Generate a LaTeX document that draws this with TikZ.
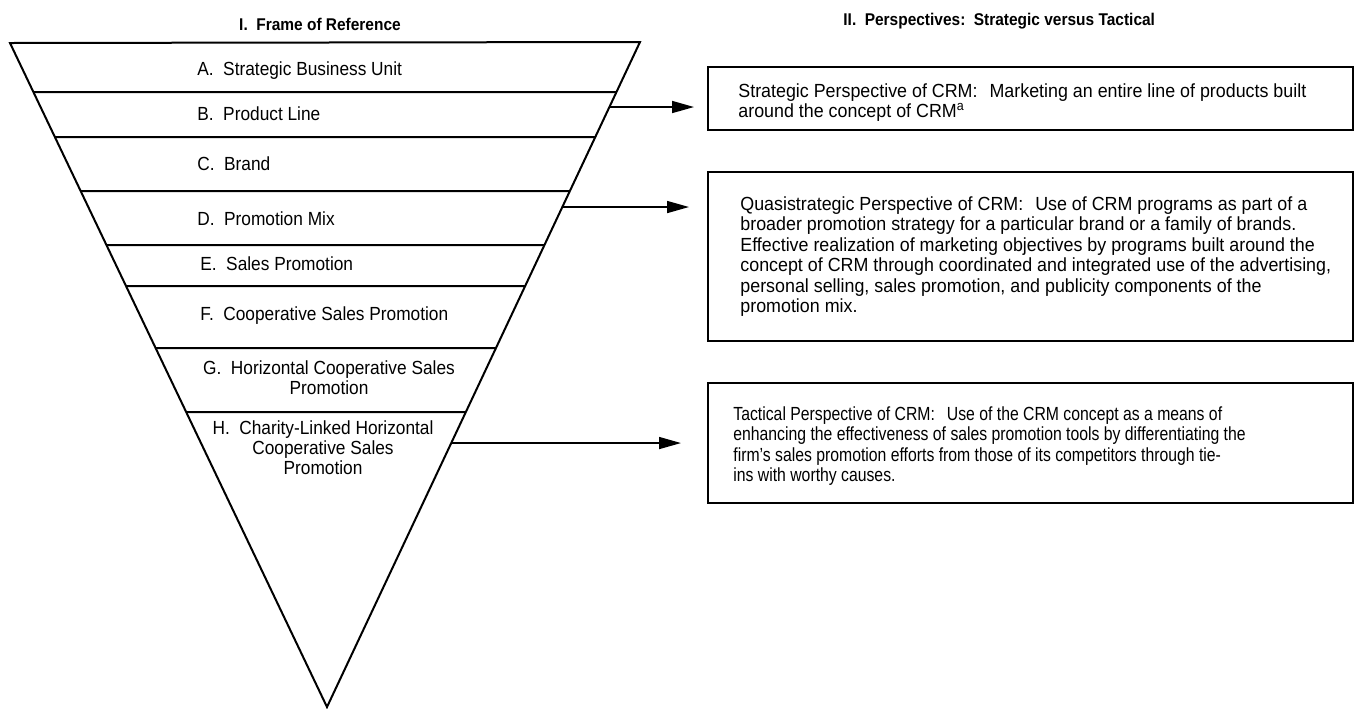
\documentclass[tikz,border=0pt]{standalone}
\usepackage{fontspec}
\setmainfont{Liberation Sans}[FakeStretch=0.91]
\newfontfamily\boxfont{Liberation Sans}[FakeStretch=0.94]
\newfontfamily\tactfont{Liberation Sans}[FakeStretch=0.83]
\usetikzlibrary{arrows.meta}
\usetikzlibrary{fit}
\tikzset{funnel/.style = {line width=1pt, line join=miter},
         perspbox/.style = {draw, line width=1pt, inner sep=0pt},
         bandlabel/.style = {anchor=base west, inner sep=0pt,
                             font=\fontsize{9.5}{10}\selectfont},
         twolabel/.style = {anchor=north, align=center, inner sep=0pt,
                            font=\fontsize{9.5}{10}\selectfont},
         boxtext/.style = {anchor=north west, align=left, inner sep=0pt,
                           font=\fontsize{9.5}{10.25}\selectfont\boxfont},
         heading/.style = {inner sep=0pt, font=\fontsize{8.5}{10}\selectfont\bfseries},
         pointer/.style = {line width=0.8pt, -{Triangle[length=11pt, width=6pt]}}}

\begin{document}
\begin{tikzpicture}[x=0.5pt, y=-0.5pt]
    \useasboundingbox (0, 0) rectangle (1355, 708);

    \coordinate (tl) at (10, 43);
    \coordinate (tr) at (640, 42);
    \coordinate (apex) at (327, 707);

    \draw [funnel] (tl) -- (tr) -- (apex) -- cycle;

    \foreach \y in {92, 137, 191, 245, 286, 348, 412}
      \draw [funnel] (intersection of tl--apex and 0,\y--1,\y) -- (intersection of tr--apex and 0,\y--1,\y);

    \node [heading, anchor=base] (frameref) at (320, 30) {I.\enspace Frame of Reference};

    \node [heading, anchor=base west] (persp) at (843, 25) {II.\enspace Perspectives:\enspace Strategic versus Tactical};

    \node [bandlabel] (sbu) at (197, 75) {A.\enspace Strategic Business Unit};
    \node [bandlabel] (pline) at (197, 120) {B.\enspace Product Line};
    \node [bandlabel] (brand) at (197, 170) {C.\enspace Brand};
    \node [bandlabel] (pmix) at (197, 225) {D.\enspace Promotion Mix};
    \node [bandlabel] (spromo) at (200, 270) {E.\enspace Sales Promotion};
    \node [bandlabel] (coop) at (200, 320) {F.\enspace Cooperative Sales Promotion};
    \node [twolabel] (horiz) at (329, 360) {G.\enspace Horizontal Cooperative Sales\\Promotion};
    \node [twolabel] (charity) at (323, 420) {H.\enspace Charity-Linked Horizontal\\Cooperative Sales\\Promotion};

    \node [perspbox, fit={(708, 67) (1353, 130)}] (strat) {};
    \node [perspbox, fit={(708, 172) (1353, 341)}] (quasi) {};
    \node [perspbox, fit={(708, 383) (1353, 503)}] (tact) {};

    \node [boxtext] (strattext) at (738, 83) {Strategic Perspective of CRM:\hspace{6pt}Marketing an entire line of products built\\
      around the concept of CRM\textsuperscript{a}};

    \node [boxtext] (quasitext) at (740, 196) {Quasistrategic Perspective of CRM:\hspace{6pt}Use of CRM programs as part of a\\
      broader promotion strategy for a particular brand or a family of brands.\\
      Effective realization of marketing objectives by programs built around the\\
      concept of CRM through coordinated and integrated use of the advertising,\\
      personal selling, sales promotion, and publicity components of the\\
      promotion mix.};

    \node [boxtext, font=\fontsize{9.5}{10.25}\selectfont\tactfont] (tacttext) at (733, 406) {Tactical Perspective of CRM:\hspace{6pt}Use of the CRM concept as a means of\\
      enhancing the effectiveness of sales promotion tools by differentiating the\\
      firm’s sales promotion efforts from those of its competitors through tie-\\
      ins with worthy causes.};

    \coordinate (plinefrom) at (intersection of tr--apex and 0,107--1,107);
    \coordinate (pmixfrom) at (intersection of tr--apex and 0,207--1,207);
    \coordinate (charityfrom) at (intersection of tr--apex and 0,443--1,443);

    \draw [pointer, shorten >=6.5pt] (plinefrom) -- (plinefrom -| strat.west);

    \draw [pointer, shorten >=9pt] (pmixfrom) -- (pmixfrom -| quasi.west);

    \draw [pointer, shorten >=13pt] (charityfrom) -- (charityfrom -| tact.west);
  \end{tikzpicture}
\end{document}
